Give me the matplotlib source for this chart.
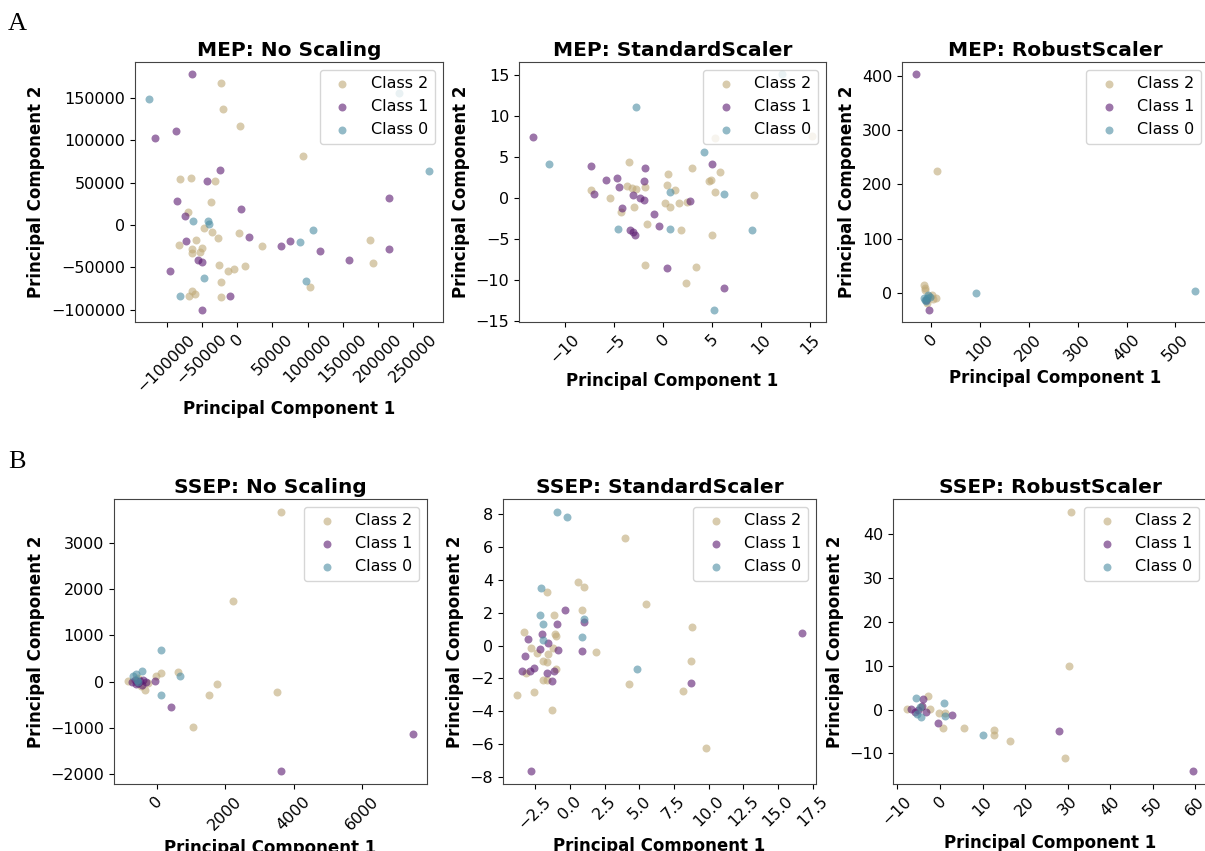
import matplotlib
matplotlib.use("Agg")
import matplotlib.pyplot as plt
from matplotlib.ticker import MultipleLocator

# ---------------- data ----------------
class_labels = ["Class 2", "Class 1", "Class 0"]
class_colors = ["#bfa977", "#5a1a70", "#4c8da2"]

# MEP: No Scaling
mep_none_c2 = [(-22400, 167700), (-19500, 137700), (3800, 117200), (92900, 82100), (-80500, 54900),
               (-65200, 55600), (-31900, 52100), (-37100, 27600), (-69500, 15400), (-47600, -3900),
               (-35700, -8700), (-59000, -18200), (-27100, -15800), (-83300, -24100), (-63800, -28400),
               (-50000, -27200), (-64300, -32800), (-52400, -32400), (3300, -9100), (34800, -24500),
               (-26200, -47000), (-12900, -54100), (-3800, -52500), (11400, -48100), (-22900, -66700),
               (-64800, -77400), (-60500, -81700), (-69000, -84100), (-22900, -84900), (188600, -18200),
               (193300, -45400), (102900, -73000)]
mep_none_c1 = [(-64800, 178800), (-116200, 103400), (-86700, 111300), (-23800, 65500), (-42900, 52500),
               (-85700, 28800), (5700, 18500), (-74300, 10700), (-73300, -19300), (16700, -14600),
               (-55200, -41400), (-50000, -44200), (-95200, -54100), (62900, -24500), (75200, -19300),
               (117100, -31200), (159500, -41800), (215700, 32400), (215700, -28000), (-10500, -83300),
               (-50000, -100600)]
mep_none_c0 = [(-125200, 149600), (-62900, 4300), (-41000, 4700), (-40000, 800), (-81000, -83700),
               (-47600, -63100), (88600, -20500), (107600, -5500), (97100, -66300), (272400, 64300),
               (230000, 156000)]

# MEP: StandardScaler
mep_std_c2 = [(-3.51, 4.42), (-7.36, 0.97), (-5.42, 0.0), (-4.29, -1.66), (-3.72, 1.46), (-3.17, 1.22),
              (-2.80, 1.05), (-1.84, 1.30), (-2.93, -1.05), (-1.67, -3.20), (-1.84, -8.19), (0.51, 2.96),
              (0.41, 1.58), (1.16, 0.93), (0.20, -0.65), (0.68, -1.05), (1.57, -0.61), (2.42, -0.53),
              (1.84, -3.85), (2.93, 3.65), (2.32, -10.30), (3.34, -8.35), (4.70, 2.03), (4.91, 2.15),
              (5.28, 0.69), (5.80, 3.16), (5.01, -4.46), (9.24, 0.36), (5.32, 7.34), (15.2, 7.5)]
mep_std_c1 = [(-13.29, 7.38), (-7.33, 3.85), (-7.06, 0.49), (-5.83, 2.19), (-4.70, 2.39), (-4.50, 1.34),
              (-4.23, -1.22), (-3.03, 0.41), (-3.37, -3.85), (-3.07, -4.10), (-2.83, -4.46), (-2.32, 0.0),
              (-1.91, -0.20), (-1.84, 3.69), (-1.98, 2.11), (-0.95, -1.95), (-0.44, -3.41), (0.44, -8.52),
              (2.76, -0.32), (4.98, 4.14), (6.20, -10.95)]
mep_std_c0 = [(-2.73, 11.07), (-11.66, 4.10), (-4.57, -3.73), (0.72, 0.73), (0.72, -3.77), (4.12, 5.56),
              (6.20, 0.49), (9.10, -3.93), (5.18, -13.67), (12.13, 15.12)]

# MEP: RobustScaler
mep_rob_c2 = [(13.0, 224.2), (-14.3, 14.7), (-11.6, 5.5), (10.2, -8.0), (1.4, -3.7), (-8.9, -19.0),
              (-12.0, 9.0), (-5.0, -6.0), (4.0, -10.0)]
mep_rob_c1 = [(-30.7, 403.6), (-4.8, -31.3), (-10.0, -12.0)]
mep_rob_c0 = [(91.4, 0.6), (540.2, 4.9), (-12.3, -11.7), (-7.5, -9.8), (-14.3, -8.6), (-2.0, -6.8),
              (-10.2, -14.1), (-6.0, -4.0)]

# SSEP: No Scaling
ssep_none_c2 = [(3626, 3665), (2239, 1746), (116, 188), (620, 209), (1755, -51), (1522, -281),
                (3509, -224), (1066, -981), (-834, 14), (-349, -173), (-10, 115), (-543, 79),
                (-450, -90), (-250, -30)]
ssep_none_c1 = [(3645, -1926), (7484, -1133), (427, -534), (-58, 14), (-737, -14), (-543, -29),
                (-397, 29), (-300, -7), (-446, -65), (-640, 43), (-500, 10), (-600, -40)]
ssep_none_c0 = [(136, 685), (679, 130), (136, -289), (-620, 173), (-427, 231), (-591, 43), (-688, 115),
                (-543, -14)]

# SSEP: StandardScaler
ssep_std_c2 = [(3.94, 6.56), (0.55, 3.84), (1.03, 3.53), (5.46, 2.50), (-1.68, 3.27), (0.87, 2.13),
               (-1.13, 1.85), (-1.08, 0.71), (-1.03, 0.59), (-3.34, 0.81), (-2.81, -0.14), (-2.38, -0.43),
               (-1.59, -0.51), (-1.92, -0.97), (-1.68, -0.99), (-0.99, -1.40), (-1.97, -2.09),
               (-1.63, -2.09), (-2.60, -2.84), (-3.80, -3.03), (-1.27, -3.94), (1.85, -0.41),
               (4.23, -2.31), (8.13, -2.76), (8.75, -0.95), (8.82, 1.10), (9.83, -6.21), (-3.15, -1.69),
               (-1.23, -0.16)]
ssep_std_c1 = [(-0.38, 2.19), (-0.94, 1.32), (-3.00, 0.41), (-3.25, -0.61), (-3.49, -1.56), (-2.91, -1.56),
               (-2.60, -1.38), (-2.04, 0.71), (-1.59, 0.16), (-2.19, -0.22), (-0.87, -0.30), (-1.66, -1.69),
               (-1.27, -2.17), (-1.13, -1.56), (0.84, -0.35), (1.03, 1.42), (-2.81, -7.63), (8.73, -2.27),
               (16.71, 0.79)]
ssep_std_c0 = [(-0.91, 8.12), (-0.24, 7.80), (-2.07, 3.47), (-2.16, 1.83), (-1.95, 1.28), (-1.95, 0.35),
               (1.03, 1.64), (0.84, 0.51), (4.86, -1.40)]

# SSEP: RobustScaler
ssep_rob_c2 = [(30.7, 45.0), (30.2, 9.9), (29.4, -11.1), (16.5, -7.1), (12.6, -4.6), (12.6, -5.9),
               (5.6, -4.1), (0.6, -4.2), (-0.3, -0.7), (-2.8, 3.0), (-2.3, 0.1), (-7.7, 0.1), (-4.4, 0.6),
               (1.1, -0.8)]
ssep_rob_c1 = [(59.4, -14.0), (27.9, -4.8), (2.8, -1.3), (-0.5, -3.0), (-4.1, 2.5), (-6.9, 0.1),
               (-5.9, -0.5), (-4.2, 0.7), (-3.4, -0.5), (-5.2, -0.2)]
ssep_rob_c0 = [(-5.6, 2.7), (0.9, 1.4), (1.1, -1.4), (10.2, -5.9), (-4.4, -1.7), (-5.5, -1.0), (-4.8, 0.5)]

panel_titles = ["MEP: No Scaling", "MEP: StandardScaler", "MEP: RobustScaler",
                "SSEP: No Scaling", "SSEP: StandardScaler", "SSEP: RobustScaler"]
panel_data = [
    [mep_none_c2, mep_none_c1, mep_none_c0],
    [mep_std_c2, mep_std_c1, mep_std_c0],
    [mep_rob_c2, mep_rob_c1, mep_rob_c0],
    [ssep_none_c2, ssep_none_c1, ssep_none_c0],
    [ssep_std_c2, ssep_std_c1, ssep_std_c0],
    [ssep_rob_c2, ssep_rob_c1, ssep_rob_c0],
]
panel_steps = [(50000, 50000), (5, 5), (100, 100), (2000, 1000), (2.5, 2), (10, 10)]

# ---------------- figure ----------------
W, H = 1205, 851
fig = plt.figure(figsize=(W / 100, H / 100), dpi=100)

# axes boxes in pixels: left, top, width, height
boxes = [(135, 62, 308, 260), (519, 62, 307, 260), (902, 62, 307, 260),
         (114, 499, 313, 285), (503, 499, 313, 285), (893, 499, 314, 285)]

for i in range(6):
    l, t, w, h = boxes[i]
    ax = fig.add_axes([l / W, 1 - (t + h) / H, w / W, h / H])
    for pts, lab, col in zip(panel_data[i], class_labels, class_colors):
        xs = [p[0] for p in pts]
        ys = [p[1] for p in pts]
        ax.scatter(xs, ys, s=33, color=col, alpha=0.6, label=lab, linewidths=0)
    ax.set_title(panel_titles[i], fontsize=14.5, fontweight="bold", pad=4)
    ax.set_xlabel("Principal Component 1", fontsize=12, fontweight="bold")
    ax.set_ylabel("Principal Component 2", fontsize=12, fontweight="bold")
    ax.xaxis.set_major_locator(MultipleLocator(panel_steps[i][0]))
    ax.yaxis.set_major_locator(MultipleLocator(panel_steps[i][1]))
    ax.tick_params(labelsize=11.5)
    for lbl in ax.get_xticklabels():
        lbl.set_rotation(45)
    for sp in ax.spines.values():
        sp.set_color("#444444")
    ax.legend(loc="upper right", fontsize=11.5)

fig.text(8 / W, 1 - 30 / H, "A", fontsize=19, family="Liberation Serif", va="baseline")
fig.text(8 / W, 1 - 468 / H, "B", fontsize=19, family="Liberation Serif", va="baseline")

fig.savefig("out.png", dpi=100, facecolor="white")
